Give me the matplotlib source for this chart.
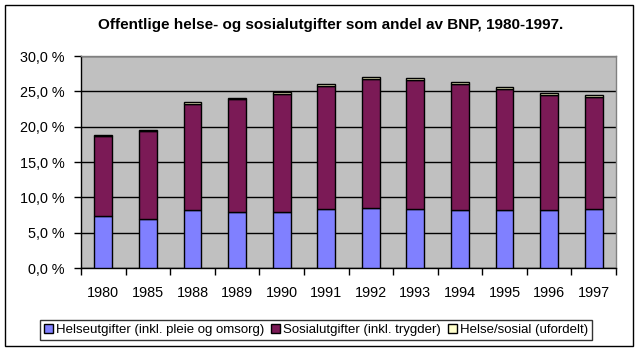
import matplotlib
matplotlib.use("Agg")
import matplotlib.pyplot as plt
from matplotlib.patches import Rectangle
import numpy as np

years = ["1980", "1985", "1988", "1989", "1990", "1991", "1992", "1993", "1994", "1995", "1996", "1997"]
helse = [7.35, 6.92, 8.19, 7.91, 7.91, 8.33, 8.48, 8.33, 8.19, 8.19, 8.19, 8.33]
sosial = [11.39, 12.53, 14.98, 16.06, 16.68, 17.39, 18.23, 18.23, 17.81, 17.10, 16.26, 15.83]
ufordelt = [0.12, 0.12, 0.32, 0.14, 0.32, 0.30, 0.28, 0.28, 0.28, 0.28, 0.30, 0.30]
series_names = ["Helseutgifter (inkl. pleie og omsorg)", "Sosialutgifter (inkl. trygder)", "Helse/sosial (ufordelt)"]
colors = ["#8080FF", "#7B1A56", "#FFFFCC"]
yticks = [0, 5, 10, 15, 20, 25, 30]

plt.rcParams['font.family'] = ['Liberation Sans', 'DejaVu Sans']

W, H = 640, 352
fig = plt.figure(figsize=(W / 100, H / 100), dpi=100)
fig.patch.set_facecolor("white")

L, R, T, B = 81, 616, 56, 268
ax = fig.add_axes([L / W, 1 - B / H, (R - L) / W, (B - T) / H])
ax.set_facecolor("#C0C0C0")

x = np.arange(len(years))
bw = 0.40
bottom = np.zeros(len(years))
handles = []
for vals, c, name in zip([helse, sosial, ufordelt], colors, series_names):
    h = ax.bar(x, vals, bw, bottom=bottom, color=c, edgecolor="black", linewidth=1.0, label=name, zorder=3)
    handles.append(h)
    bottom += np.array(vals)

ax.set_xlim(-0.5, len(years) - 0.5)
ax.set_ylim(0, 30)
ax.set_yticks(yticks)
ax.set_yticklabels([f"{v:.1f} %".replace(".", ",") for v in yticks], fontsize=10.4)
ax.yaxis.grid(True, color="black", linewidth=1.0, zorder=1)
ax.set_axisbelow(True)

ax.set_xticks(x)
ax.set_xticklabels(years, fontsize=10.4)
ax.tick_params(axis="x", which="major", length=0, pad=13)
ax.set_xticks(np.arange(-0.5, len(years), 1.0), minor=True)
ax.tick_params(axis="x", which="minor", length=5, width=1, direction="out", color="black")
ax.tick_params(axis="y", length=5, width=1, direction="out", pad=7)

for s in ["left", "bottom"]:
    ax.spines[s].set_color("black")
    ax.spines[s].set_linewidth(1.0)
for s in ["top", "right"]:
    ax.spines[s].set_color("#808080")
    ax.spines[s].set_linewidth(1.0)

fig.text(331 / W, 1 - 25 / H, "Offentlige helse- og sosialutgifter som andel av BNP, 1980-1997.",
         ha="center", va="center", fontsize=11, fontweight="bold")

leg = fig.legend(handles=handles, labels=series_names, loc="center", ncol=3,
                 bbox_to_anchor=(316 / W, 1 - 330 / H), fontsize=9.5, frameon=True,
                 fancybox=False, shadow=False, handlelength=0.7, handleheight=0.7,
                 handletextpad=0.25, columnspacing=0.5, borderpad=0.3, borderaxespad=0)
leg.get_frame().set_edgecolor("black")
leg.get_frame().set_linewidth(1.0)

fig.patches.append(Rectangle((5 / W, 1 - 346 / H), (633 - 5) / W, (346 - 5) / H,
                             transform=fig.transFigure, fill=False, edgecolor="black", linewidth=1.0))

fig.savefig("out.png", dpi=100)
